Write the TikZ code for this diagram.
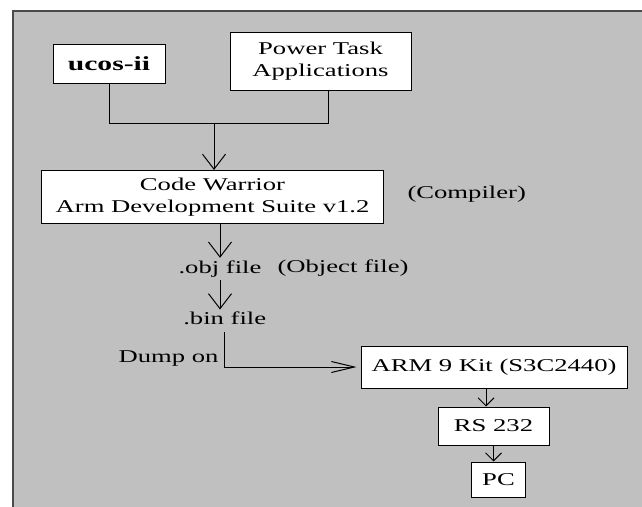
\documentclass[tikz,border=0pt]{standalone}
\usepackage{fontspec}
\setmainfont{Liberation Serif}[FakeStretch=1.48]
\usetikzlibrary{arrows.meta}
\definecolor{panelgray}{HTML}{C0C0C0}
\definecolor{framegray}{HTML}{4A4A4A}

\begin{document}
\begin{tikzpicture}[x=1pt,y=-1pt,
    box/.style={draw=black,fill=white,line width=1pt,inner sep=0pt,align=center,
      font=\fontsize{18}{21.6}\selectfont},
    lbl/.style={inner sep=3pt,text height=12pt,text depth=4pt,
      font=\fontsize{18}{21.6}\selectfont},
    wire/.style={line width=1pt},
    bigarr/.style={wire,-{Straight Barb[length=15pt,width=23pt,line width=1pt]}},
    sidearr/.style={wire,-{Straight Barb[length=23pt,width=11pt,line width=1pt]},shorten >=4pt},
    smallarr/.style={wire,-{Straight Barb[length=8pt,width=16pt,line width=1pt]}}]
	\clip (0,0) rectangle (642,506);
	\draw [fill=panelgray,draw=framegray,line width=2pt] (13,11) rectangle (680,540);
	\node [box,minimum width=112pt,minimum height=39pt,font=\fontsize{20}{24}\selectfont\bfseries] (ucos) at (109,63.5) {ucos-ii};
	\node [box,minimum width=181pt,minimum height=58pt] (power) at (320.5,61) {Power Task\\Applications};
	\node [box,minimum width=342pt,minimum height=53pt] (cw) at (212.5,197) {Code Warrior\\Arm Development Suite v1.2};
	\node [lbl] (comp) at (466.7,194) {(Compiler)};
	\node [lbl] (obj) at (220,269) {.obj file};
	\node [lbl] (objnote) at (343,268) {(Object file)};
	\node [lbl] (bin) at (224.7,320.7) {.bin file};
	\node [lbl] (dump) at (168.5,358) {Dump on};
	\node [box,minimum width=266pt,minimum height=42pt] (arm) at (494,367) {ARM 9 Kit (S3C2440)};
	\node [box,minimum width=111pt,minimum height=38pt] (rs) at (493.5,426) {RS 232};
	\node [box,minimum width=54pt,minimum height=35pt] (pc) at (498.5,479.5) {PC};
	\coordinate (join) at (214,123);
	\coordinate (ptap) at ([xshift=7.5pt]power.south);
	\coordinate (armtap) at ([xshift=-8pt]arm.south);
	\draw [wire] (ucos.south) |- (ptap |- join) -- (ptap);
	\draw [bigarr] (join) -- (join |- cw.north);
	\draw [bigarr] (cw.south -| obj) -- (obj.north);
	\draw [bigarr] (obj.south) -- (obj.south |- bin.north);
	\draw [sidearr] (bin.south) |- (arm.west);
	\draw [smallarr] (armtap) -- (armtap |- rs.north);
	\draw [smallarr] (rs.south) -- (rs.south |- pc.north);
\end{tikzpicture}
\end{document}
